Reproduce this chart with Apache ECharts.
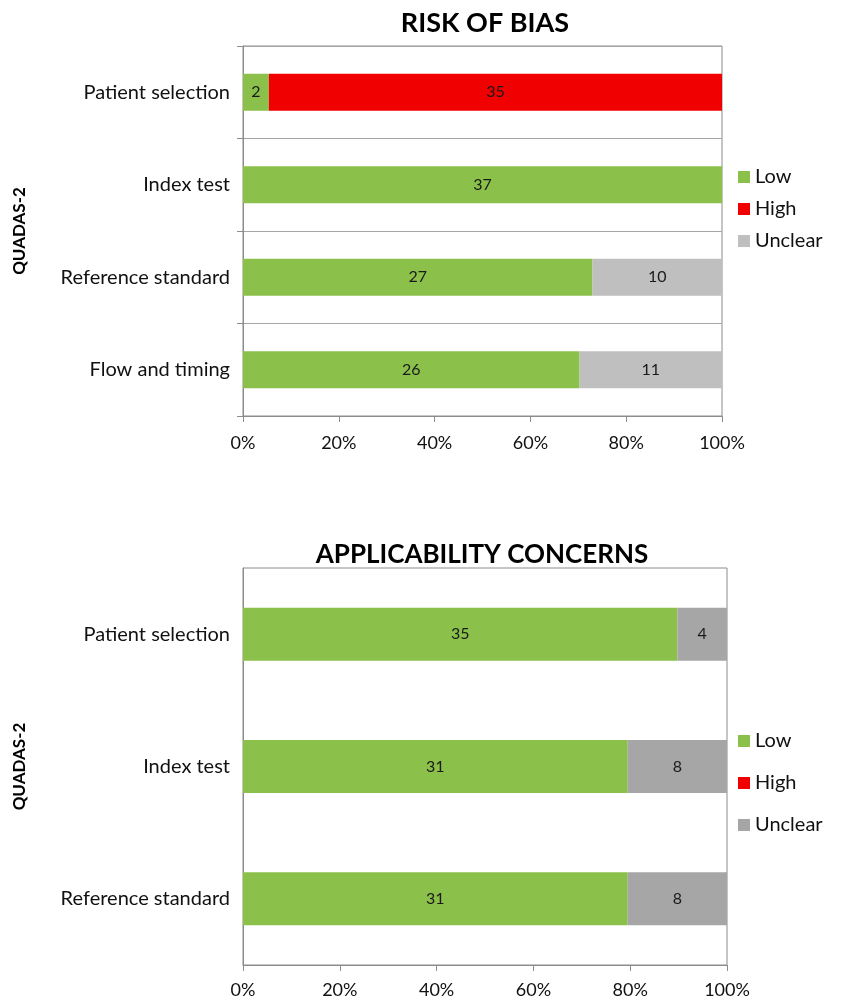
<!DOCTYPE html>
<html>
<head>
<meta charset="utf-8">
<script src="https://cdn.jsdelivr.net/npm/echarts@6/dist/echarts.min.js"></script>
<style>
  body { margin: 0; background: #fff; }
  #bias { position: absolute; left: 0; top: 0; width: 844px; height: 500px; }
  #appl { position: absolute; left: 0; top: 500px; width: 844px; height: 501px; }
</style>
</head>
<body>
<div id="bias"></div>
<div id="appl"></div>
<script>
// risk of bias - counts per domain
const biasCats = ['Patient selection', 'Index test', 'Reference standard', 'Flow and timing']
const biasLow = [2, 37, 27, 26]
const biasHigh = [35, 0, 0, 0]
const biasUnclear = [0, 0, 10, 11]

// applicability concerns
const applCats = ['Patient selection', 'Index test', 'Reference standard']
const applLow = [35, 31, 31]
const applHigh = [0, 0, 0]
const applUnclear = [4, 8, 8]

const pctTicks = [0, 20, 40, 60, 80, 100]

const FONT = 'Lato'
const GREEN = '#8BC14A'
const RED = '#F00000'

// row total, used to turn counts into percent
function rowTotal(arrs, i) {
  let total = 0
  arrs.forEach(a => { total += a[i] })
  return total
}

function makeSeries(name, counts, all, color) {
  let data = counts.map((c, i) => {
    return { value: c / rowTotal(all, i) * 100, count: c }
  })
  return {
    name: name,
    type: 'bar',
    stack: 'all',
    barCategoryGap: '60%',
    itemStyle: { color: color },
    label: {
      show: true,
      position: 'inside',
      color: '#1a1a1a',
      fontFamily: FONT,
      fontSize: 16,
      formatter: p => p.data.count ? String(p.data.count) : ''
    },
    data: data
  }
}

function makeOption(cfg) {
  return {
    animation: false,
    textStyle: { fontFamily: FONT },
    title: {
      text: cfg.title,
      left: cfg.titleX,
      top: cfg.titleTop,
      textAlign: 'center',
      textStyle: { fontFamily: FONT, fontSize: cfg.titleSize, fontWeight: 'bold', color: '#000' }
    },
    legend: {
      orient: 'vertical',
      left: 733,
      top: cfg.legendTop,
      itemGap: cfg.legendGap,
      itemWidth: 12,
      itemHeight: 12,
      icon: 'rect',
      textStyle: { fontFamily: FONT, fontSize: 20, color: '#111' },
      data: ['Low', 'High', 'Unclear']
    },
    grid: {
      left: 243,
      right: cfg.gridRight,
      top: cfg.gridTop,
      bottom: cfg.gridBottom,
      show: true,
      borderColor: '#8c8c8c',
      borderWidth: 1
    },
    xAxis: {
      type: 'value',
      min: 0,
      max: 100,
      interval: 20,
      axisLine: { show: true, lineStyle: { color: '#8c8c8c' } },
      axisTick: { show: true, length: 6, lineStyle: { color: '#8c8c8c' } },
      splitLine: { show: false },
      axisLabel: {
        margin: cfg.xLabelMargin,
        fontFamily: FONT,
        fontSize: 18,
        color: '#111',
        formatter: v => pctTicks.indexOf(v) >= 0 ? v + '%' : ''
      }
    },
    yAxis: {
      type: 'category',
      inverse: true,
      data: cfg.cats,
      name: 'QUADAS-2',
      nameLocation: 'middle',
      nameRotate: 90,
      nameGap: 215,
      nameTextStyle: { fontFamily: FONT, fontSize: 17, fontWeight: 'bold', color: '#000' },
      axisLine: { show: true, lineStyle: { color: '#8c8c8c' } },
      axisTick: { show: cfg.yTicks, length: 6, lineStyle: { color: '#8c8c8c' } },
      splitLine: { show: cfg.ySplit, lineStyle: { color: '#a6a6a6' } },
      axisLabel: { margin: 13, fontFamily: FONT, fontSize: 20, color: '#111' }
    },
    series: [
      makeSeries('Low', cfg.low, [cfg.low, cfg.high, cfg.unclear], GREEN),
      makeSeries('High', cfg.high, [cfg.low, cfg.high, cfg.unclear], RED),
      makeSeries('Unclear', cfg.unclear, [cfg.low, cfg.high, cfg.unclear], cfg.grey)
    ]
  }
}

const biasChart = echarts.init(document.getElementById('bias'))
biasChart.setOption(makeOption({
  title: 'RISK OF BIAS',
  titleX: 480,
  titleTop: 5,
  titleSize: 27,
  legendTop: 162,
  legendGap: 12,
  gridRight: 122,
  gridTop: 46,
  gridBottom: 84,
  xLabelMargin: 18,
  yTicks: true,
  ySplit: true,
  cats: biasCats,
  low: biasLow,
  high: biasHigh,
  unclear: biasUnclear,
  grey: '#BFBFBF'
}))

const applChart = echarts.init(document.getElementById('appl'))
applChart.setOption(makeOption({
  title: 'APPLICABILITY CONCERNS',
  titleX: 477,
  titleTop: 37,
  titleSize: 26,
  legendTop: 226,
  legendGap: 22,
  gridRight: 117,
  gridTop: 68,
  gridBottom: 36,
  xLabelMargin: 16,
  yTicks: false,
  ySplit: false,
  cats: applCats,
  low: applLow,
  high: applHigh,
  unclear: applUnclear,
  grey: '#A6A6A6'
}))
</script>
</body>
</html>
